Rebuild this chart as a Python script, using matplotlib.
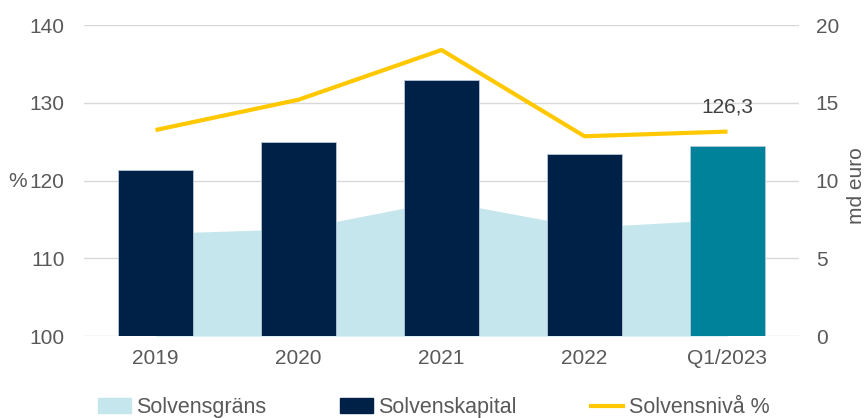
import matplotlib.pyplot as plt
from matplotlib.lines import Line2D
from matplotlib.patches import Patch

plt.rcParams['font.family'] = ['Liberation Sans', 'DejaVu Sans']

categories = ["2019", "2020", "2021", "2022", "Q1/2023"]
solvensgrans = [6.6, 6.9, 8.7, 7.0, 7.5]          # md euro (area)
solvenskapital = [10.7, 12.5, 16.5, 11.7, 12.2]   # md euro (bars)
solvensniva = [126.5, 130.4, 136.8, 125.7, 126.3]  # % (line)

grey = "#595959"
fs = 15
x = list(range(len(categories)))

fig = plt.figure(figsize=(8.68, 4.18), dpi=100)
ax_eur = fig.add_axes([0.0968, 0.196, 0.8237, 0.744])
ax_pct = ax_eur.twinx()
ax_pct.set_zorder(ax_eur.get_zorder() + 1)
ax_pct.patch.set_visible(False)

# right axis: md euro
ax_eur.fill_between(x, solvensgrans, 0, color="#C5E6EC", lw=0, zorder=1)
bar_colors = ["#002147"] * 4 + ["#00829B"]
ax_eur.bar(x, solvenskapital, width=0.52, color=bar_colors,
           edgecolor="#B8C8D8", linewidth=0.6, zorder=2)
ax_eur.set_ylim(0, 20)
ax_eur.set_yticks([0, 5, 10, 15, 20])
ax_eur.set_xlim(-0.5, 4.5)
ax_eur.yaxis.tick_right()
ax_eur.grid(axis="y", color="#D9D9D9", lw=1, zorder=0)
ax_eur.set_axisbelow(True)
ax_eur.set_xticks(x)
ax_eur.set_xticklabels(categories)

# left axis: %
ax_pct.plot(x, solvensniva, color="#FFC800", lw=3, solid_capstyle="butt")
ax_pct.set_ylim(100, 140)
ax_pct.set_yticks([100, 110, 120, 130, 140])
ax_pct.yaxis.tick_left()
ax_pct.annotate("126,3", (x[-1], solvensniva[-1]), xytext=(0, 11),
                textcoords="offset points", ha="center", va="bottom",
                color="#404040", fontsize=fs)

fig.text(0.009, 0.565, "%", color=grey, fontsize=fs, va="center")
fig.text(0.987, 0.555, "md euro", color=grey, fontsize=fs, va="center",
         ha="center", rotation=90)

for a in (ax_eur, ax_pct):
    for s in a.spines.values():
        s.set_visible(False)
    a.tick_params(length=0, labelsize=fs, labelcolor=grey)
ax_eur.tick_params(axis="x", pad=9)
ax_eur.tick_params(axis="y", pad=12)
ax_pct.tick_params(axis="y", pad=14)

handles = [Patch(color="#C5E6EC"), Patch(color="#002147"),
           Line2D([], [], color="#FFC800", lw=3)]
labels = ["Solvensgräns", "Solvenskapital", "Solvensnivå %"]
fig.legend(handles, labels, loc="lower left", bbox_to_anchor=(0.091, -0.047),
           ncol=3, frameon=False, fontsize=15.5, labelcolor=grey,
           handlelength=1.5, handletextpad=0.25, columnspacing=3.45)

fig.savefig("out.png", dpi=100)
